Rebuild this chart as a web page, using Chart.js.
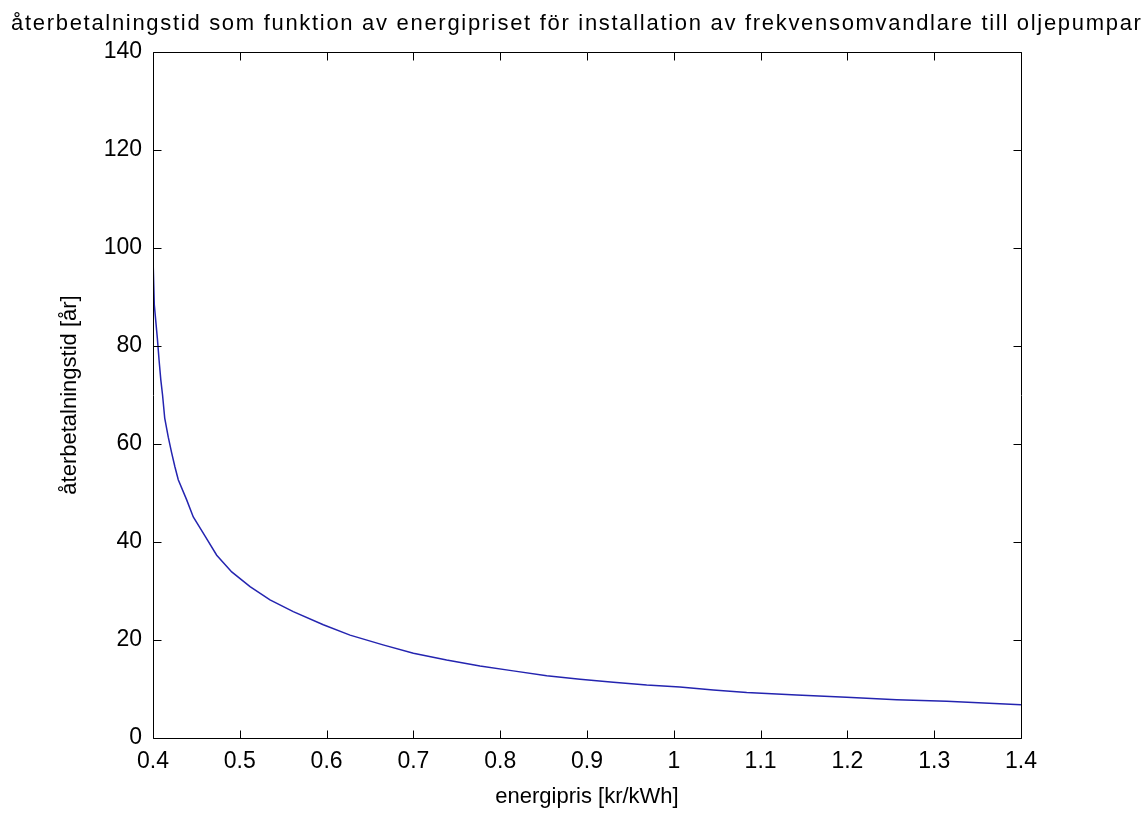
<!DOCTYPE html>
<html>
<head>
<meta charset="utf-8">
<script src="https://cdn.jsdelivr.net/npm/chart.js@4"></script>
<style>
html, body { margin: 0; padding: 0; background: #fff; }
</style>
</head>
<body>
<canvas id="myChart" width="1141" height="814"></canvas>
<script>
// Values
var energipris = [0.400, 0.4015, 0.405, 0.407, 0.409, 0.411, 0.4135, 0.4176, 0.4215, 0.4253, 0.4291,
    0.4388, 0.4464, 0.460, 0.4734, 0.4907, 0.5118, 0.5348, 0.5616, 0.5962, 0.627, 0.665,
    0.700, 0.7383, 0.7767, 0.815, 0.8536, 0.892, 0.9303, 0.9688, 1.007, 1.0455, 1.084,
    1.1416, 1.199, 1.2568, 1.3144, 1.400];
var aterbetalningstid = [98.0, 88.4, 81.6, 77.1, 73.1, 70.0, 65.3, 61.4, 58.2, 55.3, 52.7,
    48.6, 45.1, 41.2, 37.3, 33.9, 30.9, 28.2, 25.8, 23.1, 21.0, 19.0,
    17.3, 15.9, 14.7, 13.7, 12.7, 12.0, 11.4, 10.8, 10.4, 9.8, 9.3,
    8.8, 8.3, 7.8, 7.5, 6.8];

var xTicks = [0.4, 0.5, 0.6, 0.7, 0.8, 0.9, 1, 1.1, 1.2, 1.3, 1.4];
var yTicks = [0, 20, 40, 60, 80, 100, 120, 140];

var titleText = "återbetalningstid som funktion av energipriset för installation av frekvensomvandlare till oljepumpar";
var fontName = '"Liberation Sans", Arial, Helvetica, sans-serif';

var points = [];
for (var i = 0; i < energipris.length; i++) {
    points.push({ x: energipris[i], y: aterbetalningstid[i] });
}

// MATLAB style box with inward ticks, plus the title
var matlabBox = {
    id: 'matlabBox',
    afterDraw: function(chart) {
        var ctx = chart.ctx;
        var a = chart.chartArea;
        var xs = chart.scales.x;
        var ys = chart.scales.y;
        var tl = 8;
        var L = Math.round(a.left) + 0.5, R = Math.round(a.right) + 0.5;
        var T = Math.round(a.top) + 0.5, B = Math.round(a.bottom) + 0.5;
        ctx.save();
        ctx.strokeStyle = '#000';
        ctx.lineWidth = 1;
        ctx.beginPath();
        ctx.rect(L, T, R - L, B - T);
        xTicks.forEach(function(v) {
            var px = Math.round(xs.getPixelForValue(v)) + 0.5;
            ctx.moveTo(px, B); ctx.lineTo(px, B - tl);
            ctx.moveTo(px, T); ctx.lineTo(px, T + tl);
        });
        yTicks.forEach(function(v) {
            var py = Math.round(ys.getPixelForValue(v)) + 0.5;
            ctx.moveTo(L, py); ctx.lineTo(L + tl, py);
            ctx.moveTo(R, py); ctx.lineTo(R - tl, py);
        });
        ctx.stroke();

        ctx.fillStyle = '#000';
        ctx.font = '22px ' + fontName;
        ctx.letterSpacing = '1.7px';
        ctx.textAlign = 'left';
        ctx.textBaseline = 'alphabetic';
        ctx.fillText(titleText, 11, 30);
        ctx.restore();
    }
};

var ctx = document.getElementById('myChart').getContext('2d');
var myChart = new Chart(ctx, {
    type: 'scatter',
    data: {
        datasets: [{
            label: 'återbetalningstid',
            data: points,
            showLine: true,
            borderColor: '#2424b0',
            borderWidth: 1.5,
            pointRadius: 0,
            tension: 0,
            fill: false
        }]
    },
    options: {
        responsive: false,
        animation: false,
        layout: { padding: { top: 52, right: 120, bottom: 0, left: 0 } },
        plugins: {
            legend: { display: false },
            tooltip: { enabled: false },
            title: { display: false }
        },
        scales: {
            x: {
                type: 'linear',
                min: 0.4,
                max: 1.4,
                afterFit: function(scale) { scale.height = 76; },
                afterBuildTicks: function(scale) {
                    scale.ticks = xTicks.map(function(v) { return { value: v }; });
                },
                grid: { display: false, drawTicks: false },
                border: { display: false },
                ticks: {
                    color: '#000',
                    padding: 10,
                    maxRotation: 0,
                    font: { family: fontName, size: 23 },
                    callback: function(v) { return String(Math.round(v * 10) / 10); }
                },
                title: {
                    display: true,
                    text: 'energipris [kr/kWh]',
                    color: '#000',
                    font: { family: fontName, size: 22 },
                    padding: { top: 0, bottom: 4 }
                }
            },
            y: {
                type: 'linear',
                min: 0,
                max: 140,
                afterFit: function(scale) { scale.width = 153; },
                afterBuildTicks: function(scale) {
                    scale.ticks = yTicks.map(function(v) { return { value: v }; });
                },
                grid: { display: false, drawTicks: false },
                border: { display: false },
                ticks: {
                    color: '#000',
                    padding: 11,
                    font: { family: fontName, size: 23 }
                },
                title: {
                    display: true,
                    text: 'återbetalningstid [år]',
                    color: '#000',
                    font: { family: fontName, size: 22 },
                    padding: { top: 57, bottom: 0 }
                }
            }
        }
    },
    plugins: [matlabBox]
});
</script>
</body>
</html>
